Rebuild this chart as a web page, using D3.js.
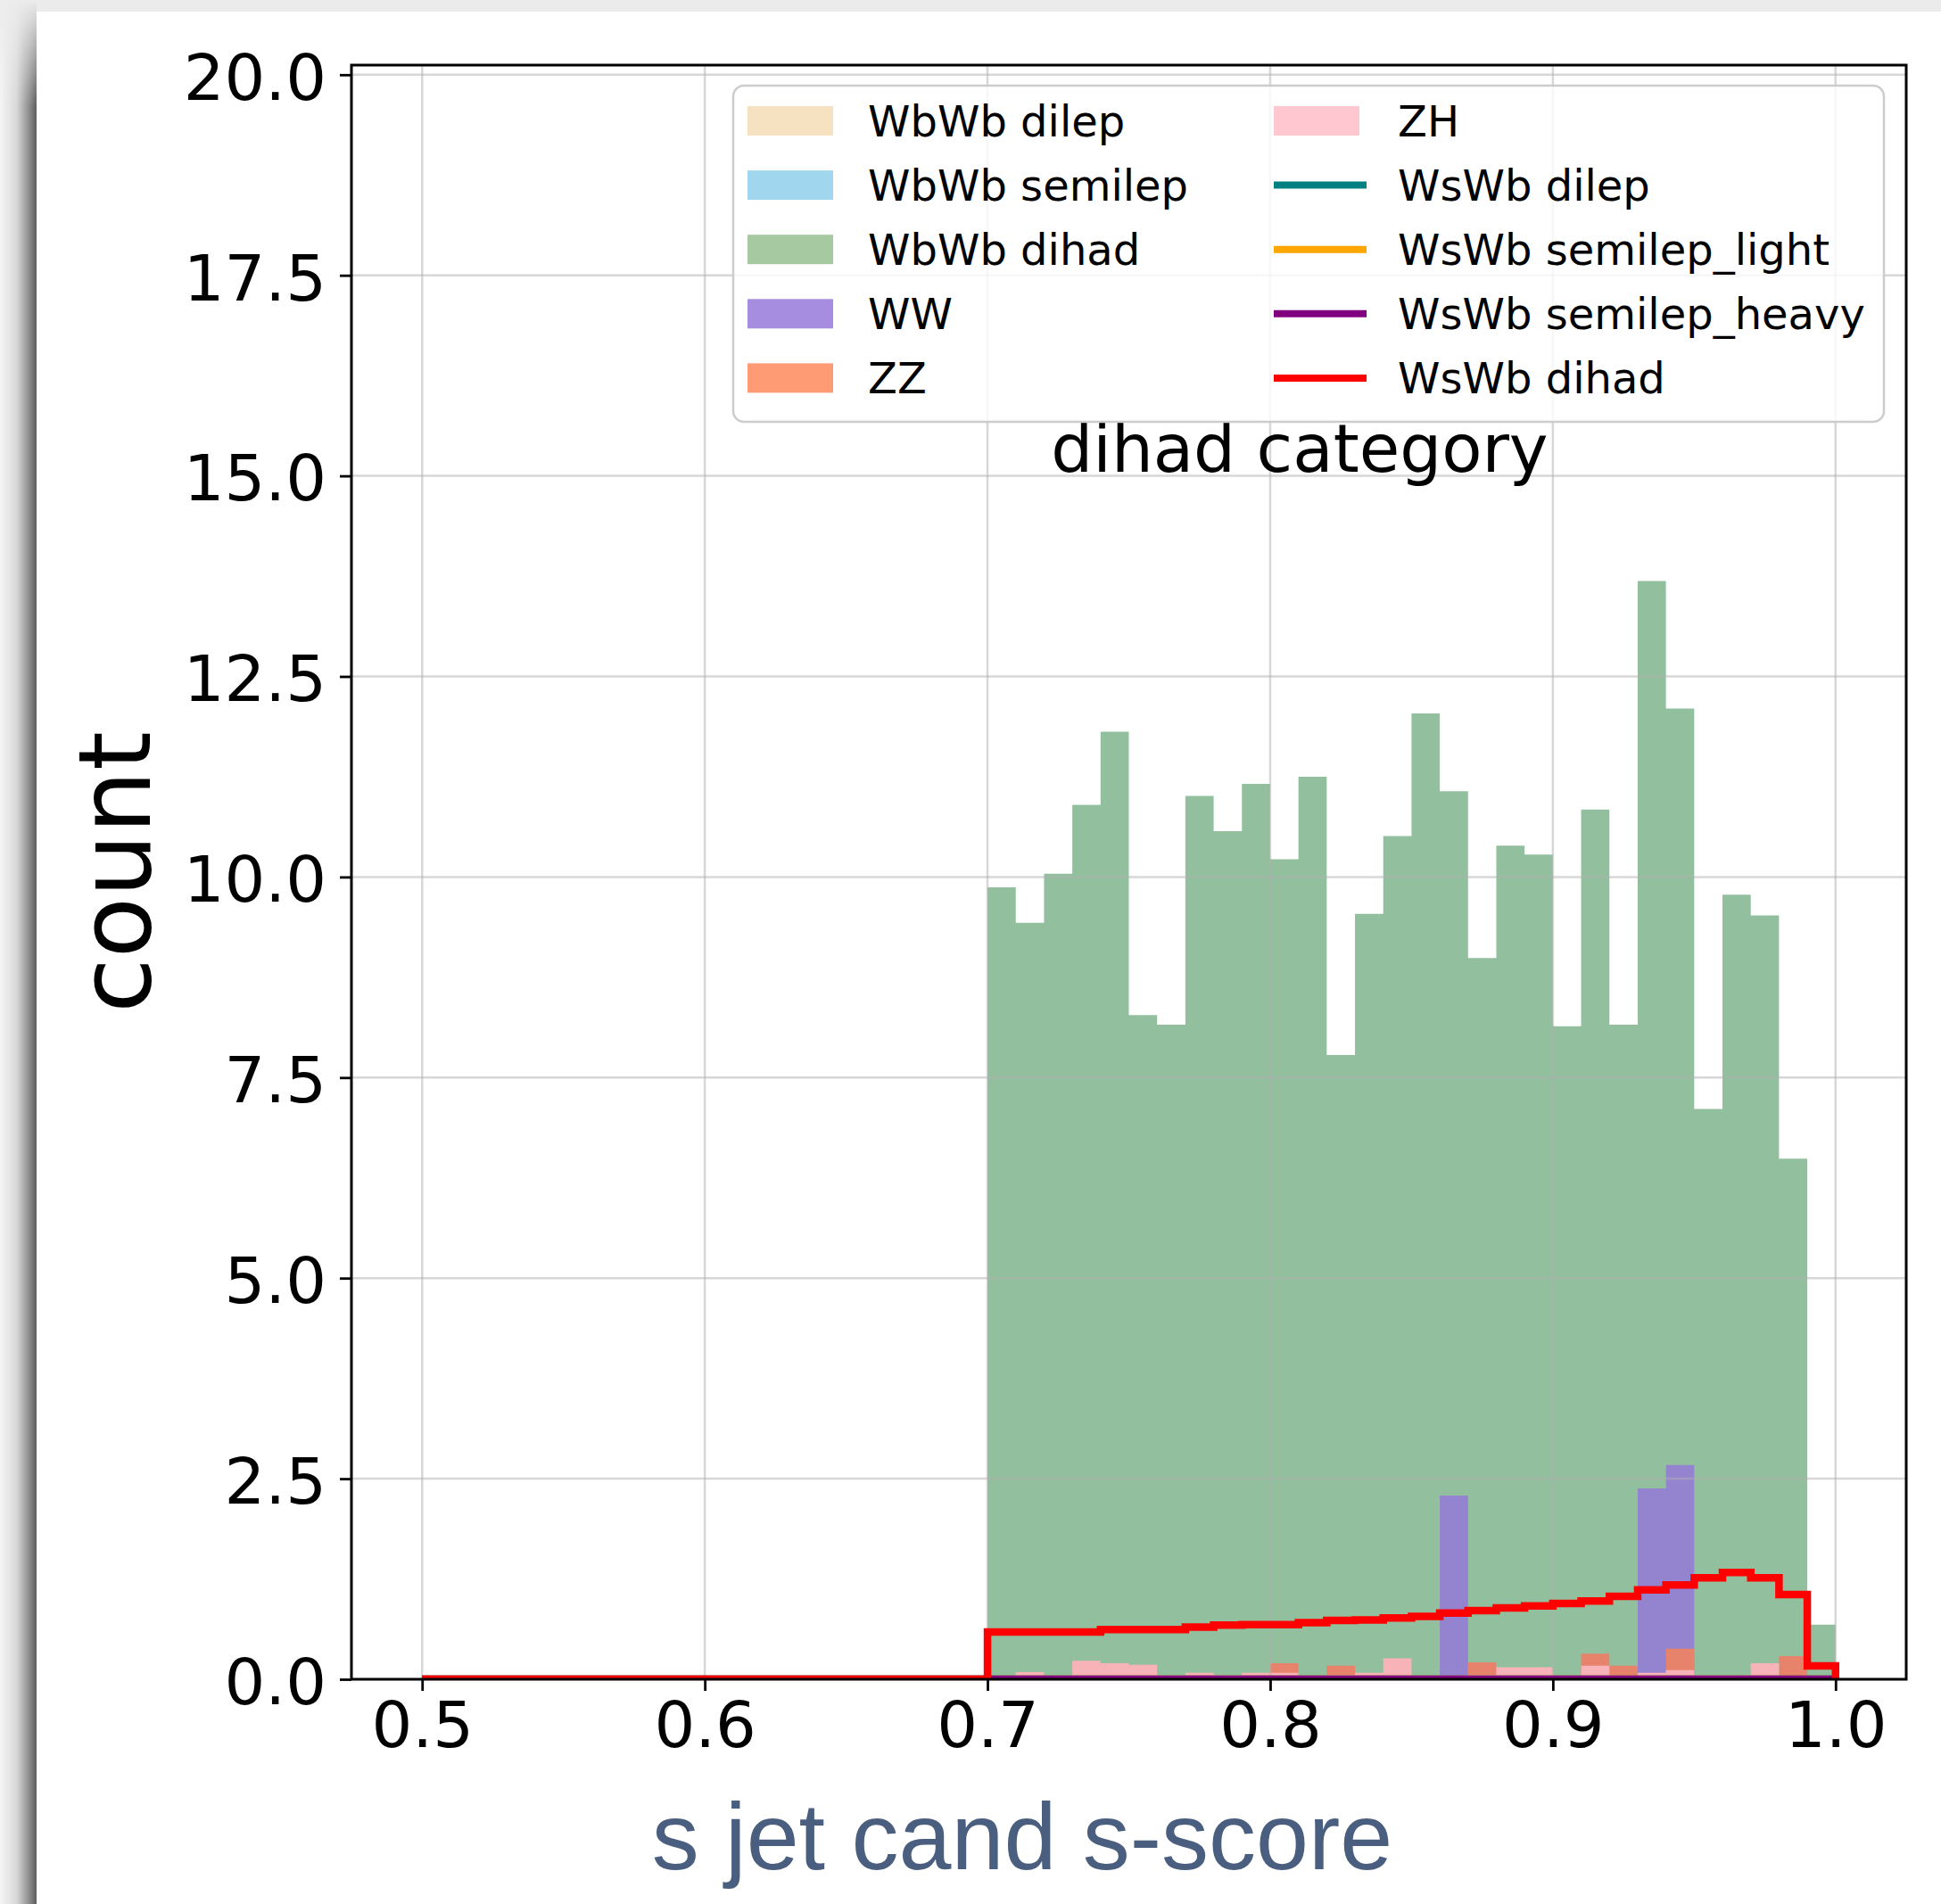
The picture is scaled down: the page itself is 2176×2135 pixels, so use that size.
<!DOCTYPE html>
<html lang="en">
<head>
<meta charset="utf-8">
<title>dihad category</title>
<script src="https://d3js.org/d3.v7.min.js"></script>
<style>
  html, body { margin: 0; padding: 0; background: #fff; }
  svg { display: block; }
  .tick text { font-family: "DejaVu Sans", sans-serif; font-size: 72px; fill: #000; }
  .legend text { font-family: "DejaVu Sans", sans-serif; font-size: 48px; fill: #000; }
  .title { font-family: "DejaVu Sans", sans-serif; font-size: 74px; fill: #000; }
  .ylabel { font-family: "DejaVu Sans", sans-serif; font-size: 112px; fill: #000; }
  .xlabel { font-family: "Liberation Sans", Arial, sans-serif; font-size: 106px; fill: #4a5e80; }
</style>
</head>
<body>
<script>

// histogram binning of the s-score, 50 bins
const binEdges = [0.50, 0.51, 0.52, 0.53, 0.54, 0.55, 0.56, 0.57, 0.58, 0.59,
                  0.60, 0.61, 0.62, 0.63, 0.64, 0.65, 0.66, 0.67, 0.68, 0.69,
                  0.70, 0.71, 0.72, 0.73, 0.74, 0.75, 0.76, 0.77, 0.78, 0.79,
                  0.80, 0.81, 0.82, 0.83, 0.84, 0.85, 0.86, 0.87, 0.88, 0.89,
                  0.90, 0.91, 0.92, 0.93, 0.94, 0.95, 0.96, 0.97, 0.98, 0.99, 1.00];

// counts per bin (bins 0.50 .. 0.69 are empty for every sample)
const wbwbDilep   = [0,0,0,0,0,0,0,0,0,0, 0,0,0,0,0,0,0,0,0,0,
                     0,0,0,0,0,0,0,0,0,0, 0,0,0,0,0,0,0,0,0,0, 0,0,0,0,0,0,0,0,0,0];
const wbwbSemilep = [0,0,0,0,0,0,0,0,0,0, 0,0,0,0,0,0,0,0,0,0,
                     0,0,0,0,0,0,0,0,0,0, 0,0,0,0,0,0,0,0,0,0, 0,0,0,0,0,0,0,0,0,0];
const wbwbDihad   = [0,0,0,0,0,0,0,0,0,0, 0,0,0,0,0,0,0,0,0,0,
                     9.87, 9.43, 10.04, 10.90, 11.81, 8.28, 8.16, 11.01, 10.57, 11.16,
                     10.22, 11.25, 7.78, 9.54, 10.51, 12.04, 11.07, 8.99, 10.39, 10.28,
                     8.14, 10.84, 8.16, 13.69, 12.10, 7.11, 9.78, 9.52, 6.49, 0.68];
const ww          = [0,0,0,0,0,0,0,0,0,0, 0,0,0,0,0,0,0,0,0,0,
                     0,0,0,0,0,0,0,0,0,0, 0,0,0,0,0,0, 2.29, 0,0,0,
                     0,0,0, 2.38, 2.67, 0,0,0,0,0];
const zz          = [0,0,0,0,0,0,0,0,0,0, 0,0,0,0,0,0,0,0,0,0,
                     0,0,0,0,0,0,0,0,0,0, 0.20, 0, 0.17, 0,0,0,0, 0.21, 0,0,
                     0, 0.32, 0.17, 0, 0.38, 0,0,0, 0.29, 0];
const zh          = [0,0,0,0,0,0,0,0,0,0, 0,0,0,0,0,0,0,0,0,0,
                     0, 0.09, 0, 0.23, 0.20, 0.18, 0.05, 0.08, 0.05, 0.08,
                     0.08, 0, 0.05, 0.08, 0.26, 0, 0, 0.05, 0.15, 0.15,
                     0, 0.17, 0, 0.08, 0.115, 0.05, 0.05, 0.20, 0, 0];
const wswbDilep         = [0,0,0,0,0,0,0,0,0,0, 0,0,0,0,0,0,0,0,0,0,
                           0,0,0,0,0,0,0,0,0,0, 0,0,0,0,0,0,0,0,0,0, 0,0,0,0,0,0,0,0,0,0];
const wswbSemilepLight  = [0,0,0,0,0,0,0,0,0,0, 0,0,0,0,0,0,0,0,0,0,
                           0,0,0,0,0,0,0,0,0,0, 0,0,0,0,0,0,0,0,0,0, 0,0,0,0,0,0,0,0,0,0];
const wswbSemilepHeavy  = [0,0,0,0,0,0,0,0,0,0, 0,0,0,0,0,0,0,0,0,0,
                           0,0,0,0,0,0,0,0,0,0, 0,0,0,0,0,0,0,0,0,0, 0,0,0,0,0,0,0,0,0,0];
const wswbDihad         = [0,0,0,0,0,0,0,0,0,0, 0,0,0,0,0,0,0,0,0,0,
                           0.59, 0.59, 0.59, 0.59, 0.62, 0.62, 0.62, 0.65, 0.675, 0.68,
                           0.68, 0.705, 0.735, 0.74, 0.765, 0.785, 0.825, 0.855, 0.89, 0.915,
                           0.945, 0.975, 1.035, 1.115, 1.175, 1.265, 1.33, 1.265, 1.055, 0.167];

const xTicks = [0.5, 0.6, 0.7, 0.8, 0.9, 1.0];
const yTicks = [0, 2.5, 5, 7.5, 10, 12.5, 15, 17.5, 20];

// filled histograms, drawn in this order (later ones on top)
const barSeries = [
    {name: "WbWb dilep",   values: wbwbDilep,   fill: "#f5deb3", legend: "#f6e1c1"},
    {name: "WbWb semilep", values: wbwbSemilep, fill: "#87ceeb", legend: "#a1d7ee"},
    {name: "WbWb dihad",   values: wbwbDihad,   fill: "#92c09e", legend: "#a6c9a2"},
    {name: "WW",           values: ww,          fill: "#9483cf", legend: "#a78de0"},
    {name: "ZZ",           values: zz,          fill: "#e8836b", legend: "#fe9a74"},
    {name: "ZH",           values: zh,          fill: "#f8b3b8", legend: "#ffc8d0"}
];
// step histograms
const lineSeries = [
    {name: "WsWb dilep",          values: wswbDilep,        stroke: "#008080"},
    {name: "WsWb semilep_light",  values: wswbSemilepLight, stroke: "#ffa500"},
    {name: "WsWb semilep_heavy",  values: wswbSemilepHeavy, stroke: "#800080"},
    {name: "WsWb dihad",          values: wswbDihad,        stroke: "#ff0000"}
];

let realW = 2176,
    realH = 2135;

let plot = {left: 394, right: 2137, top: 73, bottom: 1883};

let xScale = d3.scaleLinear()
    .domain([0.475, 1.025])
    .range([plot.left, plot.right]);

let yScale = d3.scaleLinear()
    .domain([0, 20.12])
    .range([plot.bottom, plot.top]);

let svg = d3.select("body")
    .append("svg")
    .attr("width", realW)
    .attr("height", realH);

// window frame: grey strip on top, drop shadow on the left
let defs = svg.append("defs");
let sh = defs.append("linearGradient").attr("id", "shadowX")
    .attr("x1", 0).attr("x2", 1).attr("y1", 0).attr("y2", 0);
sh.append("stop").attr("offset", "0%").attr("stop-color", "#f6f6f6");
sh.append("stop").attr("offset", "45%").attr("stop-color", "#d8d8d8");
sh.append("stop").attr("offset", "80%").attr("stop-color", "#8c8c8c");
sh.append("stop").attr("offset", "100%").attr("stop-color", "#5c5c5c");
let fade = defs.append("linearGradient").attr("id", "shadowFade")
    .attr("x1", 0).attr("x2", 0).attr("y1", 0).attr("y2", 1);
fade.append("stop").attr("offset", "0%").attr("stop-color", "#ececec").attr("stop-opacity", 1);
fade.append("stop").attr("offset", "100%").attr("stop-color", "#ececec").attr("stop-opacity", 0);

svg.append("rect").attr("width", realW).attr("height", realH).attr("fill", "#ebebeb");
svg.append("rect").attr("x", 0).attr("y", 0).attr("width", 41).attr("height", realH)
    .attr("fill", "url(#shadowX)");
svg.append("rect").attr("x", 0).attr("y", 0).attr("width", 41).attr("height", 120)
    .attr("fill", "url(#shadowFade)");
svg.append("rect").attr("x", 41).attr("y", 13)
    .attr("width", realW - 41).attr("height", realH - 13).attr("fill", "#fff");

defs.append("clipPath").attr("id", "axesClip")
    .append("rect")
    .attr("x", plot.left).attr("y", plot.top)
    .attr("width", plot.right - plot.left)
    .attr("height", plot.bottom - plot.top);

function stepPoints(vals) {
    let pts = vals.map((v, i) => [binEdges[i], v]);
    pts.push([binEdges[vals.length], vals[vals.length - 1]]);
    return pts;
}

let area = d3.area()
    .x(d => xScale(d[0]))
    .y0(yScale(0))
    .y1(d => yScale(d[1]))
    .curve(d3.curveStepAfter);

let line = d3.line()
    .x(d => xScale(d[0]))
    .y(d => yScale(d[1]))
    .curve(d3.curveStepAfter);

let axes = svg.append("g").attr("clip-path", "url(#axesClip)");

// bars
axes.selectAll("path.bars")
    .data(barSeries)
    .enter()
    .append("path")
    .attr("class", "bars")
    .attr("d", d => area(stepPoints(d.values)))
    .attr("fill", d => d.fill);

// grid (above patches, below lines like matplotlib)
axes.selectAll("line.gx")
    .data(xTicks)
    .enter()
    .append("line")
    .attr("x1", d => xScale(d)).attr("x2", d => xScale(d))
    .attr("y1", plot.top).attr("y2", plot.bottom)
    .attr("stroke", "#b0b0b0").attr("stroke-opacity", 0.5).attr("stroke-width", 2.5);
axes.selectAll("line.gy")
    .data(yTicks)
    .enter()
    .append("line")
    .attr("x1", plot.left).attr("x2", plot.right)
    .attr("y1", d => yScale(d)).attr("y2", d => yScale(d))
    .attr("stroke", "#b0b0b0").attr("stroke-opacity", 0.5).attr("stroke-width", 2.5);

// step outlines
axes.selectAll("path.step")
    .data(lineSeries)
    .enter()
    .append("path")
    .attr("class", "step")
    .attr("d", d => line([[binEdges[0], 0]].concat(stepPoints(d.values), [[binEdges[binEdges.length - 1], 0]])))
    .attr("fill", "none")
    .attr("stroke", d => d.stroke)
    .attr("stroke-width", 8.5)
    .attr("stroke-linejoin", "miter");

// title text inside the axes
svg.append("text")
    .attr("class", "title")
    .attr("x", xScale(0.7225))
    .attr("y", yScale(15.05))
    .text("dihad category");

// spines
svg.append("rect")
    .attr("x", plot.left).attr("y", plot.top)
    .attr("width", plot.right - plot.left)
    .attr("height", plot.bottom - plot.top)
    .attr("fill", "none").attr("stroke", "#000").attr("stroke-width", 3);

// axes
let gx = svg.append("g")
    .attr("transform", "translate(0," + plot.bottom + ")")
    .call(d3.axisBottom(xScale).tickValues(xTicks).tickFormat(d3.format(".1f"))
        .tickSize(13).tickPadding(12));
gx.select(".domain").remove();
gx.selectAll(".tick line").attr("stroke", "#000").attr("stroke-width", 2.8);

let gy = svg.append("g")
    .attr("transform", "translate(" + plot.left + ",0)")
    .call(d3.axisLeft(yScale).tickValues(yTicks).tickFormat(d3.format(".1f"))
        .tickSize(13).tickPadding(15));
gy.select(".domain").remove();
gy.selectAll(".tick line").attr("stroke", "#000").attr("stroke-width", 2.8);
gy.selectAll(".tick text").attr("dy", "0.38em");

// axis labels
svg.append("text")
    .attr("class", "ylabel")
    .attr("transform", "translate(168," + ((plot.top + plot.bottom) / 2) + ") rotate(-90)")
    .attr("text-anchor", "middle")
    .text("count");

svg.append("text")
    .attr("class", "xlabel")
    .attr("x", 1146)
    .attr("y", 2096)
    .attr("text-anchor", "middle")
    .text("s jet cand s-score");

// legend, two columns
let legend = svg.append("g").attr("class", "legend");
legend.append("rect")
    .attr("x", 822).attr("y", 96)
    .attr("width", 1290).attr("height", 377)
    .attr("rx", 12).attr("ry", 12)
    .attr("fill", "#fff").attr("fill-opacity", 0.8)
    .attr("stroke", "#cccccc").attr("stroke-width", 2.5);

let rowY = i => 135.5 + i * 72.1;

let col1 = legend.selectAll("g.c1")
    .data(barSeries.slice(0, 5))
    .enter()
    .append("g");
col1.append("rect")
    .attr("x", 838).attr("y", (d, i) => rowY(i) - 16.5)
    .attr("width", 96).attr("height", 33)
    .attr("fill", d => d.legend);
col1.append("text")
    .attr("x", 973).attr("y", (d, i) => rowY(i))
    .attr("dy", "0.36em")
    .text(d => d.name);

let col2Items = [barSeries[5]].concat(lineSeries);
let col2 = legend.selectAll("g.c2")
    .data(col2Items)
    .enter()
    .append("g");
col2.filter(d => d.fill)
    .append("rect")
    .attr("x", 1428).attr("y", rowY(0) - 16.5)
    .attr("width", 96).attr("height", 33)
    .attr("fill", d => d.legend);
col2.filter(d => d.stroke)
    .append("line")
    .attr("x1", 1428).attr("x2", 1532)
    .attr("y1", d => rowY(col2Items.indexOf(d)))
    .attr("y2", d => rowY(col2Items.indexOf(d)))
    .attr("stroke", d => d.stroke).attr("stroke-width", 8);
col2.append("text")
    .attr("x", 1567).attr("y", (d, i) => rowY(i))
    .attr("dy", "0.36em")
    .text(d => d.name);

</script>
</body>
</html>
